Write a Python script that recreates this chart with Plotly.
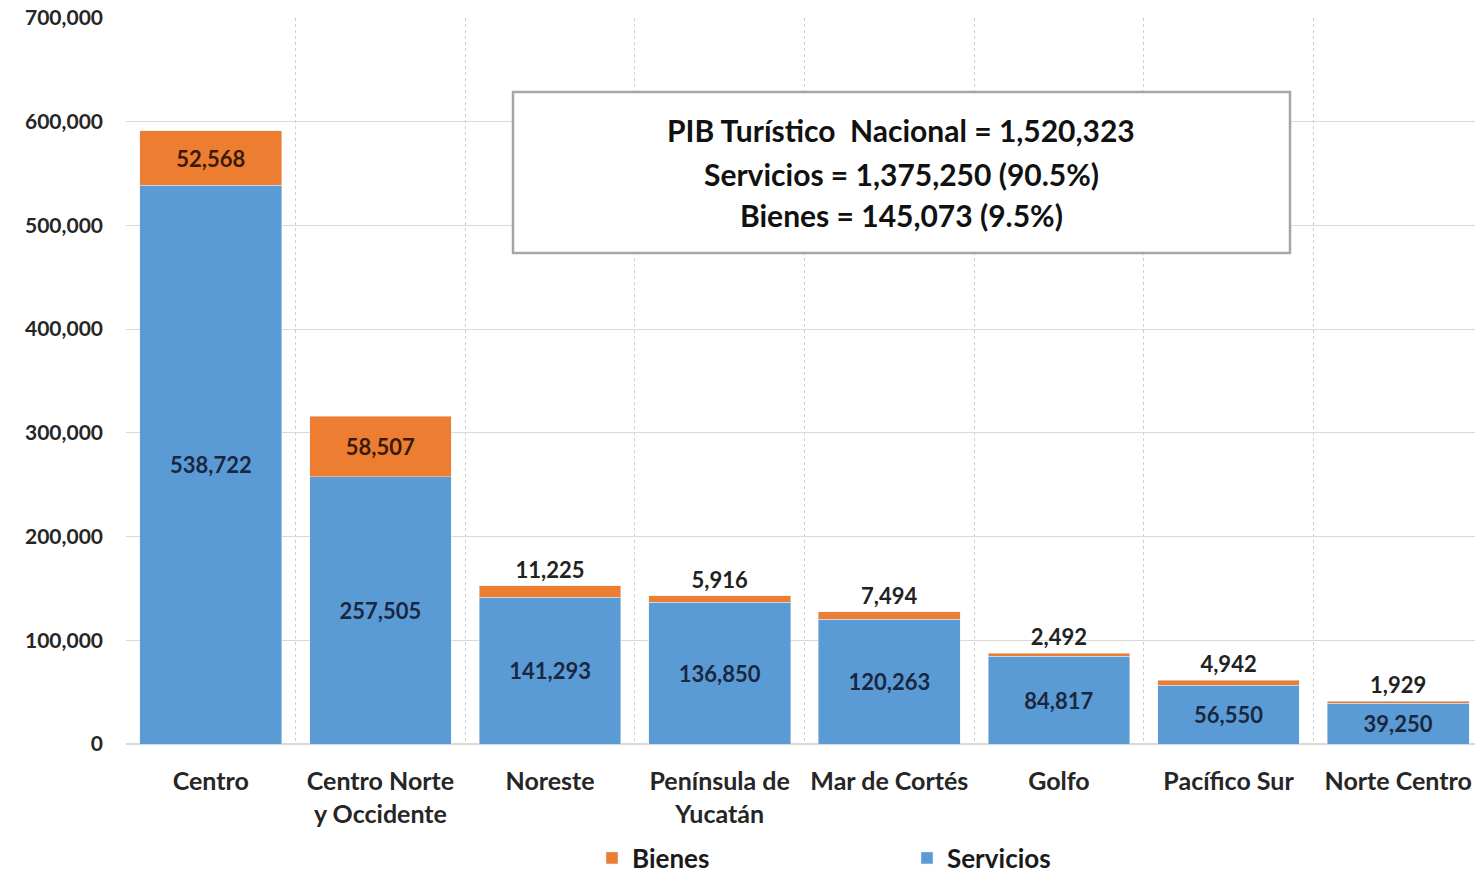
import plotly.graph_objects as go

categories = ["Centro", "Centro Norte<br>y Occidente", "Noreste", "Península de<br>Yucatán",
              "Mar de Cortés", "Golfo", "Pacífico Sur", "Norte Centro"]
servicios = [538722, 257505, 141293, 136850, 120263, 84817, 56550, 39250]
bienes = [52568, 58507, 11225, 5916, 7494, 2492, 4942, 1929]
bienes_textpos = ["inside", "inside", "outside", "outside", "outside", "outside", "outside", "outside"]
y_ticks = [0, 100000, 200000, 300000, 400000, 500000, 600000, 700000]
summary_lines = ["PIB Turístico  Nacional = 1,520,323",
                 "Servicios = 1,375,250 (90.5%)",
                 "Bienes = 145,073 (9.5%)"]

FONT = "Lato"
BLUE = "#5B9BD5"
ORANGE = "#ED7D31"

# page layout (page coords: body has an 8px margin)
PL, PR, PT, PB = 126, 1483, 18, 744
W_PLOT = PR - PL
H_PLOT = PB - PT
FIG_W, FIG_H = 1475, 874


def px(x):
    return (x - PL) / W_PLOT


def py(y):
    return (PB - y) / H_PLOT


fig = go.Figure()
fig.add_trace(go.Bar(
    x=categories, y=servicios, name="Servicios", marker_color=BLUE,
    text=[f"{v:,}" for v in servicios], textposition="inside", insidetextanchor="middle",
    textfont=dict(family=FONT, size=22, color="#1a2740", weight="bold"), legendrank=2,
    textangle=0,
))
fig.add_trace(go.Bar(
    x=categories, y=bienes, name="Bienes", marker_color=ORANGE,
    text=[f"{v:,}" for v in bienes], textposition=bienes_textpos, insidetextanchor="middle",
    insidetextfont=dict(family=FONT, size=22, color="#3a1a0a", weight="bold"),
    outsidetextfont=dict(family=FONT, size=22, color="#222222", weight="bold"),
    legendrank=1, cliponaxis=False, textangle=0,
))

fig.update_layout(
    barmode="stack", bargap=0.165,
    width=FIG_W, height=FIG_H,
    margin=dict(l=PL - 8, r=0, t=PT - 8, b=FIG_H + 8 - PB, autoexpand=False),
    paper_bgcolor="white", plot_bgcolor="white",
    font=dict(family=FONT, size=16, color="#262626"),
    uniformtext=dict(mode=False),
    showlegend=True,
    legend=dict(orientation="h", traceorder="normal", x=px(592), xanchor="left", y=py(858), yanchor="middle",
                font=dict(family=FONT, size=26, color="#1a1a1a", weight="bold"),
                entrywidth=270, entrywidthmode="pixels",
                bgcolor="rgba(0,0,0,0)"),
    yaxis=dict(range=[0, 700000], tickvals=y_ticks, tickformat=",", automargin=False,
               ticklabeloverflow="allow",
               showgrid=True, gridcolor="#d9d9d9", gridwidth=1,
               zeroline=True, zerolinecolor="#d9d9d9", showline=False,
               tickfont=dict(family=FONT, size=21, color="#262626", weight="bold"), ticklabelstandoff=22),
    xaxis=dict(tickson="boundaries", showgrid=True, griddash="dot", gridcolor="#cfcfcf", gridwidth=1,
               showline=False, ticks="", ticklabelstandoff=20, automargin=False,
               tickfont=dict(family=FONT, size=25, color="#262626", weight="bold")),
)

fig.add_shape(type="rect", xref="paper", yref="paper",
              x0=px(513), x1=px(1290), y0=py(253), y1=py(92),
              line=dict(color="#a6a6a6", width=2.5), fillcolor="white", layer="above")

for line, yc in zip(summary_lines, [130, 174, 215]):
    fig.add_annotation(
        xref="paper", yref="paper", x=px(901), y=py(yc), xanchor="center", yanchor="middle",
        text=line, showarrow=False,
        font=dict(family=FONT, size=30, color="#111111", weight="bold"),
    )

fig.write_html("out.html")
